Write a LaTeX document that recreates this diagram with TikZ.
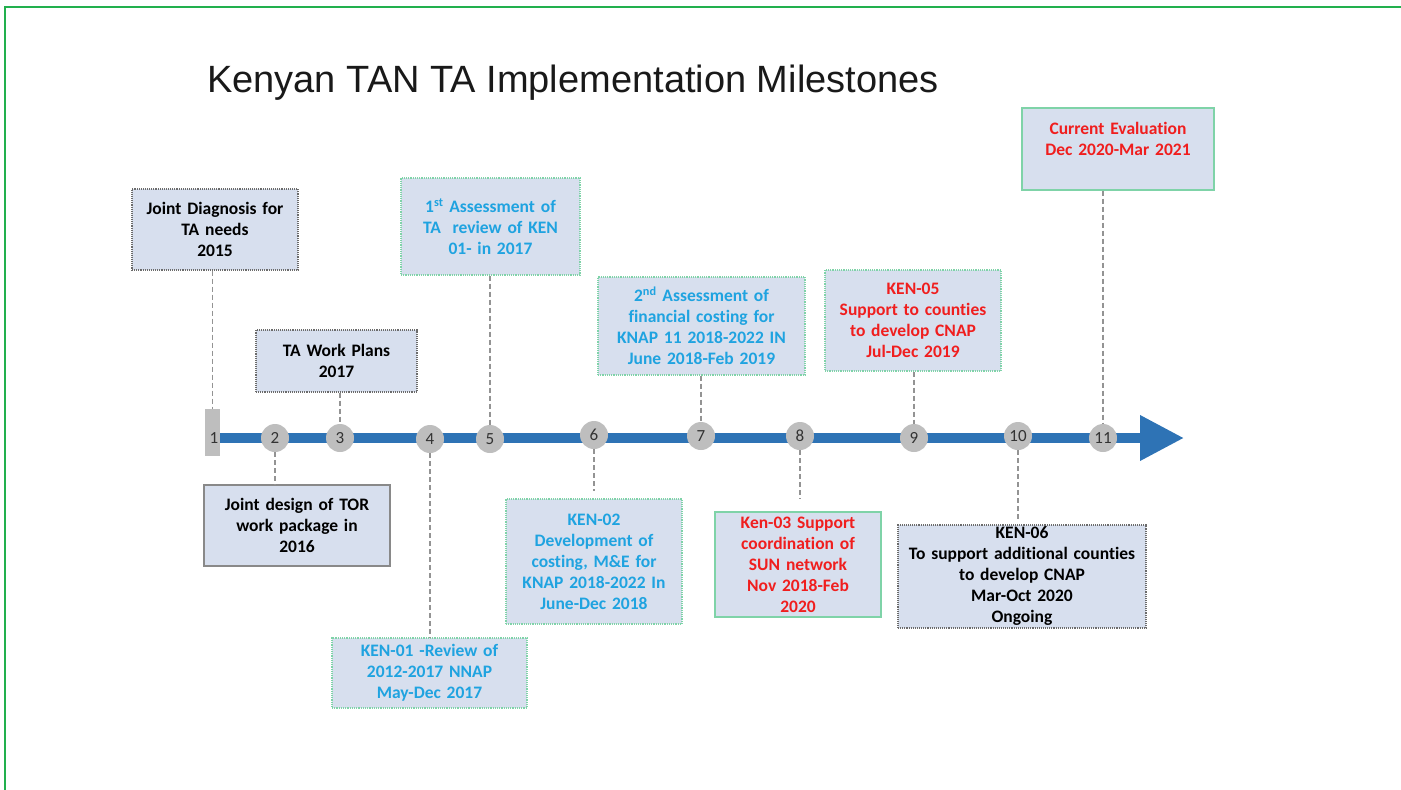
\documentclass[tikz,border=0pt]{standalone}
\usepackage{fontspec}
\setmainfont{Carlito}[RawFeature={-liga;-clig;-calt;-dlig}]
\newfontfamily\titlefont{Liberation Sans}
\usetikzlibrary{arrows.meta}
\definecolor{boxfill}{HTML}{D7DFEE}
\definecolor{greenedge}{HTML}{7FD3A8}
\definecolor{grayedge}{HTML}{6B6B6B}
\definecolor{cyantext}{HTML}{1FA3E0}
\definecolor{redtext}{HTML}{F01E1E}
\definecolor{lineblue}{HTML}{2E73B5}
\definecolor{dotgray}{HTML}{BEBEBE}
\definecolor{framegreen}{HTML}{22B04E}
\begin{document}
\begin{tikzpicture}[x=1pt,y=-1pt,
  card/.style={fill=boxfill, align=center, inner sep=0pt,
    font=\fontsize{17.5}{21}\selectfont\bfseries},
  grayline/.style={draw=grayedge, densely dotted, line width=1.1pt},
  grayplain/.style={draw=grayedge!80, line width=1.1pt},
  greenline/.style={draw=greenedge, densely dotted, line width=1.2pt},
  greenplain/.style={draw=greenedge, line width=1.2pt},
  conn/.style={draw=gray!85, dashed, dash pattern=on 5pt off 3pt, line width=1.8pt},
  stop/.style={circle, fill=dotgray, minimum size=28pt, inner sep=0pt,
    font=\fontsize{17}{17}\selectfont, text=black!80},
]
\useasboundingbox (0,0) rectangle (1401,790);
% outer frame
\draw[framegreen, line width=2pt] (5,790) -- (5,7) -- (1401,7);

% title
\node[anchor=base west, inner sep=0pt, font=\titlefont\fontsize{38}{42}\selectfont, text=black!90]
  (title) at (207,92) {Kenyan TAN TA Implementation Milestones};

% timeline axis
\coordinate (tip) at (1184,438);
\draw[lineblue, line width=10pt, -{Triangle[length=44pt,width=43pt]}] (214,438) -- (tip);

% milestones
\node[fill=dotgray, minimum width=15pt, minimum height=47pt, inner sep=0pt] (n1) at (212.5,432.5) {};
\node[inner sep=0pt, font=\fontsize{17}{17}\selectfont, text=black!80] (l1) at (214,438) {1};
\node[stop] (n2) at (275,438) {2};
\node[stop] (n3) at (340,438) {3};
\node[stop] (n4) at (430,439) {4};
\node[stop] (n5) at (490,439) {5};
\node[stop] (n6) at (594,435) {6};
\node[stop] (n7) at (701,436) {7};
\node[stop] (n8) at (800,436) {8};
\node[stop] (n9) at (914,438) {9};
\node[stop] (n10) at (1018,436) {10};
\node[stop] (n11) at (1103,438) {11};

% boxes above the axis
\node[card, grayline, minimum width=166pt, minimum height=81pt, text width=160pt]
  (b1) at (215,229.5) {Joint Diagnosis for\\TA needs\\2015};
\node[card, grayline, minimum width=161pt, minimum height=62pt, text width=155pt]
  (b2) at (336.5,361) {TA Work Plans\\2017};
\node[card, greenline, text=cyantext, minimum width=179pt, minimum height=97pt, text width=173pt]
  (b4) at (490.5,226.5) {1\textsuperscript{st} Assessment of\\TA\ \ review of KEN\\01- in 2017};
\node[card, greenline, text=cyantext, minimum width=207pt, minimum height=98pt, text width=201pt]
  (b7) at (701.5,326) {2\textsuperscript{nd} Assessment of\\financial costing for\\KNAP 11 2018-2022 IN\\June 2018-Feb 2019};
\node[card, greenline, text=redtext, minimum width=176pt, minimum height=101pt, text width=170pt]
  (b9) at (913,320.5) {KEN-05\\Support to counties\\to develop CNAP\\Jul-Dec 2019};
\node[card, greenplain, text=redtext, minimum width=192pt, minimum height=82pt, text width=186pt]
  (b11) at (1118,149) {Current Evaluation\\Dec 2020-Mar 2021\\\mbox{}};

% boxes below the axis
\node[card, grayplain, minimum width=186pt, minimum height=81pt, text width=180pt]
  (b3) at (297,525.5) {Joint design of TOR\\work package in\\2016};
\node[card, greenline, text=cyantext, minimum width=195pt, minimum height=70pt, text width=189pt]
  (b5) at (429.5,673) {KEN-01 -Review of\\2012-2017 NNAP\\May-Dec 2017};
\node[card, greenline, text=cyantext, minimum width=176pt, minimum height=125pt, text width=170pt]
  (b6) at (594,561.5) {KEN-02\\Development of\\costing, M\&E for\\KNAP 2018-2022 In\\June-Dec 2018};
\node[card, greenplain, text=redtext, minimum width=166pt, minimum height=105pt, text width=160pt]
  (b8) at (798,564.5) {Ken-03 Support\\coordination of\\SUN network\\Nov 2018-Feb\\2020};
\node[card, grayline, minimum width=248pt, minimum height=103pt, text width=242pt]
  (b10) at (1022,576.5) {KEN-06\\To support additional counties\\to develop CNAP\\Mar-Oct 2020\\Ongoing};

% leader lines
\draw[conn] (n1 |- b1.south) -- (n1.north);
\draw[conn] (n3 |- b2.south) -- (n3.north);
\draw[conn] (n5 |- b4.south) -- (n5.north);
\draw[conn] (n7 |- b7.south) -- (n7.north);
\draw[conn] (n9 |- b9.south) -- (n9.north);
\draw[conn] (n11 |- b11.south) -- (n11.north);
\draw[conn] (n2.south) -- (n2 |- b3.north);
\draw[conn] (n4.south) -- (n4 |- b5.north);
\draw[conn] (n6.south) -- ([yshift=7pt]n6 |- b6.north);
\draw[conn] (n8.south) -- ([yshift=12pt]n8 |- b8.north);
\draw[conn] (n10.south) -- ([yshift=5pt]n10 |- b10.north);
\end{tikzpicture}
\end{document}
